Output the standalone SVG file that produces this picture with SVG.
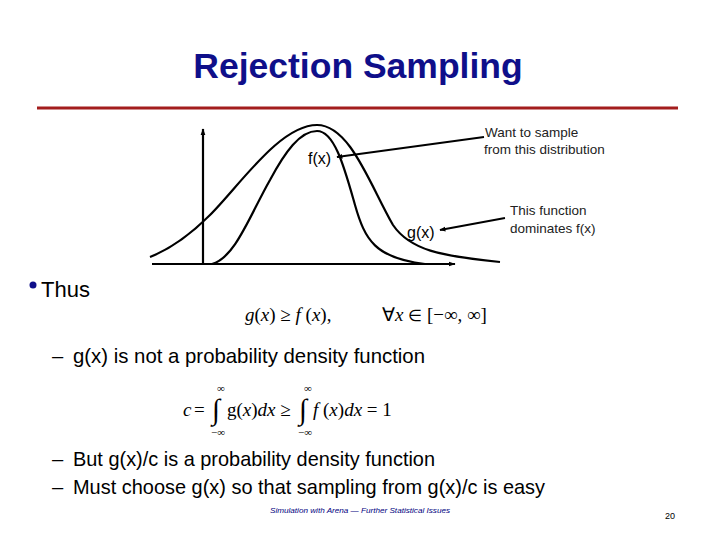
<svg xmlns="http://www.w3.org/2000/svg" width="720" height="540" viewBox="0 0 720 540">
<style>
.sans{font-family:"Liberation Sans",Arial,sans-serif}
.serif{font-family:"Liberation Serif","Times New Roman",serif}
.curve{fill:none;stroke:#000;stroke-width:2.2}
.ann{font-family:"Liberation Sans",Arial,sans-serif;font-size:13.5px;fill:#222}
.lbl{font-family:"Liberation Sans",Arial,sans-serif;font-size:16px;fill:#000}
.body{font-family:"Liberation Sans",Arial,sans-serif;font-size:20.2px;fill:#000}
.it{font-style:italic}
</style>
<defs>
<marker id="ah" viewBox="0 0 10 10" refX="9" refY="5" markerWidth="6" markerHeight="6" orient="auto" markerUnits="userSpaceOnUse">
<path d="M0,1 L10,5 L0,9 Z" fill="#000"/>
</marker>
<marker id="ax" viewBox="0 0 10 10" refX="9" refY="5" markerWidth="7" markerHeight="7" orient="auto" markerUnits="userSpaceOnUse">
<path d="M0,1.5 L10,5 L0,8.5 Z" fill="#000"/>
</marker>
</defs>
<rect width="720" height="540" fill="#fff"/>
<g id="title">
<text x="358" y="78" text-anchor="middle" class="sans" font-size="35.5" font-weight="bold" fill="#0f0f8a">Rejection Sampling</text>
<line x1="37" y1="108" x2="678" y2="108" stroke="#a31d1d" stroke-width="3"/>
</g>
<g id="plot">
<line x1="152" y1="264" x2="455" y2="264" stroke="#000" stroke-width="2.2" marker-end="url(#ax)"/>
<line x1="203" y1="264" x2="203" y2="129" stroke="#000" stroke-width="2.2" marker-end="url(#ax)"/>
<path id="g-curve" class="curve" d="M150,257 C175,247 195,230 210,215 C240,185 280,125 317,125 C350,125 370,185 393,225 C410,250 440,256 500,262"/>
<path id="f-curve" class="curve" d="M212,264 C235,258 250,215 270,180 C285,152 300,131 317,131 C335,131 345,170 355,205 C365,240 375,258 425,264"/>
</g>
<g id="label-f"><text x="308" y="164" class="lbl">f(x)</text></g>
<g id="label-g"><text x="407" y="238" class="lbl">g(x)</text></g>
<g id="note-f">
<text x="485" y="137" class="ann">Want to sample</text>
<text x="484" y="154" class="ann">from this distribution</text>
</g>
<g id="note-g">
<text x="510" y="215" class="ann">This function</text>
<text x="510" y="233" class="ann">dominates f(x)</text>
</g>
<g id="connectors" stroke="#000" stroke-width="1.8">
<line x1="484" y1="137" x2="337" y2="157" marker-end="url(#ah)"/>
<line x1="505" y1="218" x2="440" y2="230" marker-end="url(#ah)"/>
</g>
<g id="bullet">
<circle cx="33" cy="285" r="3.5" fill="#0f0f8a"/>
<text x="41" y="297" class="sans" font-size="22" fill="#000">Thus</text>
</g>
<g id="formula1" class="serif" font-size="19" fill="#000">
<text x="245" y="321"><tspan class="it">g</tspan>(<tspan class="it">x</tspan>) ≥ <tspan class="it">f</tspan> (<tspan class="it">x</tspan>),</text>
<text x="382" y="321">∀<tspan class="it">x</tspan> <tspan font-size="16">∈</tspan> [−∞, ∞]</text>
</g>
<g id="line1">
<text x="52" y="363" class="body">–</text>
<text x="73" y="363" class="body" textLength="352" lengthAdjust="spacingAndGlyphs">g(x) is not a probability density function</text>
</g>
<g id="formula2" class="serif" fill="#000">
<text x="183" y="416" font-size="19" class="it">c</text>
<text x="194" y="416" font-size="19">=</text>
<text x="212" y="419" font-size="29">∫</text>
<text x="217" y="392" font-size="11">∞</text>
<text x="211" y="436" font-size="11">−∞</text>
<text x="227" y="416" font-size="19">g(<tspan class="it">x</tspan>)<tspan class="it">dx</tspan> ≥</text>
<text x="299" y="419" font-size="29">∫</text>
<text x="304" y="392" font-size="11">∞</text>
<text x="298" y="436" font-size="11">−∞</text>
<text x="313" y="416" font-size="19"><tspan class="it">f</tspan> (<tspan class="it">x</tspan>)<tspan class="it">dx</tspan> = 1</text>
</g>
<g id="line2">
<text x="52" y="466" class="body">–</text>
<text x="73" y="466" class="body" textLength="362" lengthAdjust="spacingAndGlyphs">But g(x)/c is a probability density function</text>
</g>
<g id="line3">
<text x="52" y="494" class="body">–</text>
<text x="73" y="494" class="body" textLength="472" lengthAdjust="spacingAndGlyphs">Must choose g(x) so that sampling from g(x)/c is easy</text>
</g>
<g id="footer">
<text x="270" y="513" class="sans it" font-size="8" fill="#000080" textLength="180" lengthAdjust="spacingAndGlyphs">Simulation with Arena — Further Statistical Issues</text>
<text x="665" y="519" class="sans" font-size="9" fill="#000">20</text>
</g>
</svg>
